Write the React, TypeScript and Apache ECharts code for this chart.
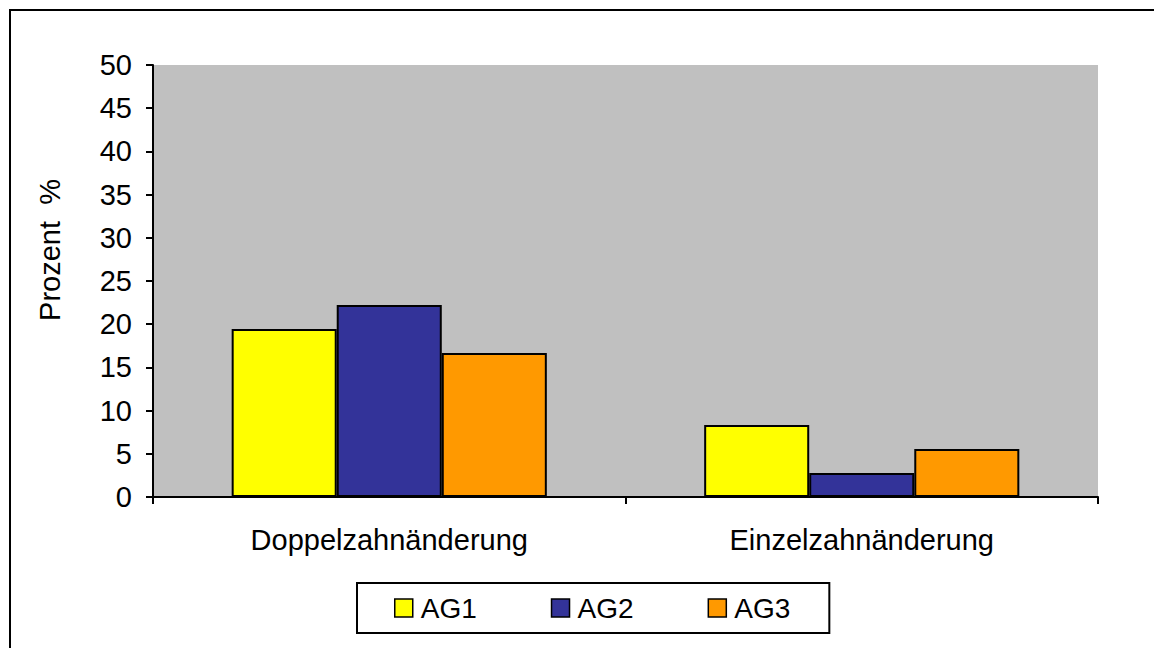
import React, { useEffect, useRef } from "react";
import * as echarts from "echarts";

const categories = ["Doppelzahnänderung", "Einzelzahnänderung"];
const seriesNames = ["AG1", "AG2", "AG3"];
const ag1 = [19.44, 8.33];
const ag2 = [22.22, 2.78];
const ag3 = [16.67, 5.56];
const colors = ["#FFFF00", "#333399", "#FF9900"];
const yAxisName = "Prozent  %";

const FONT = "'Liberation Sans', Arial, sans-serif";
const FS = 29;

export default function App() {
  const ref = useRef<HTMLDivElement>(null);
  useEffect(() => {
    if (!ref.current) return;
    const chart = echarts.init(ref.current, undefined, { renderer: "svg" });
    const values = [ag1, ag2, ag3];
    chart.setOption({
      animation: false,
      backgroundColor: "#ffffff",
      textStyle: { fontFamily: FONT },
      graphic: [
        {
          type: "rect",
          shape: { x: 10, y: 10, width: 1200, height: 700 },
          style: { fill: "none", stroke: "#000", lineWidth: 2 },
          silent: true,
        },
      ],
      grid: {
        left: 153,
        right: 56,
        top: 65,
        bottom: 151,
        show: true,
        backgroundColor: "#C0C0C0",
        borderWidth: 0,
      },
      legend: {
        data: seriesNames,
        left: 357,
        top: 583,
        orient: "horizontal",
        icon: "rect",
        itemWidth: 18,
        itemHeight: 18,
        itemGap: 74,
        padding: [11, 39, 11, 37],
        borderColor: "#000",
        borderWidth: 2,
        textStyle: { fontSize: 28, color: "#000", fontFamily: FONT, padding: [0, 0, 0, 3] },
        itemStyle: { borderColor: "#000", borderWidth: 1.5 },
      },
      xAxis: {
        type: "category",
        data: categories,
        axisLine: { lineStyle: { color: "#000", width: 2 } },
        axisTick: { show: true, length: 7, lineStyle: { color: "#000", width: 2 } },
        axisLabel: { fontSize: FS, color: "#000", margin: 28, fontFamily: FONT },
        splitLine: { show: false },
      },
      yAxis: {
        type: "value",
        min: 0,
        max: 50,
        interval: 5,
        name: yAxisName,
        nameLocation: "middle",
        nameRotate: 90,
        nameGap: 89,
        nameTextStyle: { fontSize: FS, color: "#000", fontFamily: FONT, padding: [0, 0, 0, 62] },
        axisLine: { show: true, lineStyle: { color: "#000", width: 2 } },
        axisTick: { show: true, length: 7, lineStyle: { color: "#000", width: 2 } },
        axisLabel: { fontSize: FS, color: "#000", margin: 21, fontFamily: FONT },
        splitLine: { show: false },
      },
      series: seriesNames.map((name, i) => ({
        name,
        type: "bar",
        data: values[i],
        barGap: "0%",
        barCategoryGap: "33.3%",
        itemStyle: { color: colors[i], borderColor: "#000", borderWidth: 2 },
      })),
    });
    return () => chart.dispose();
  }, []);
  return (
    <div
      ref={ref}
      style={{ position: "absolute", left: 0, top: 0, width: 1154, height: 648 }}
    />
  );
}
